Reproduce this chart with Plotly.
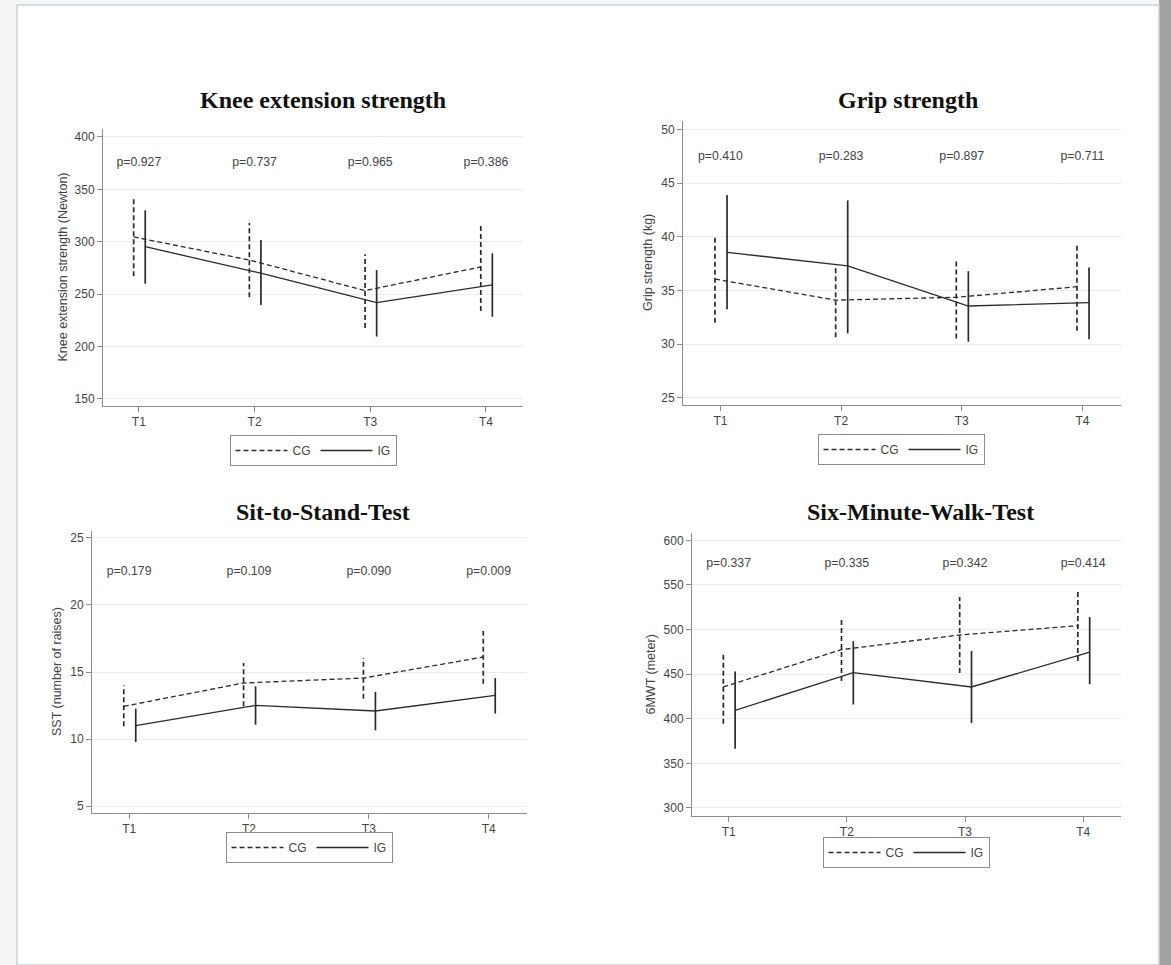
import plotly.graph_objects as go

# ---------------- data ----------------
timepoints = ["T1", "T2", "T3", "T4"]
groups = ["CG", "IG"]

knee_cg_mean = [304.6, 282.6, 253.4, 276.0]
knee_cg_lo = [267.0, 247.0, 217.7, 234.0]
knee_cg_hi = [341.0, 318.0, 288.0, 315.0]
knee_ig_mean = [295.3, 270.0, 242.0, 258.8]
knee_ig_lo = [260.0, 239.7, 209.6, 228.5]
knee_ig_hi = [330.0, 301.7, 273.0, 289.0]
knee_p = ["0.927", "0.737", "0.965", "0.386"]

grip_cg_mean = [36.06, 34.10, 34.36, 35.35]
grip_cg_lo = [32.00, 30.63, 30.53, 31.25]
grip_cg_hi = [40.16, 37.36, 37.95, 39.30]
grip_ig_mean = [38.55, 37.30, 33.55, 33.86]
grip_ig_lo = [33.24, 31.00, 30.22, 30.45]
grip_ig_hi = [43.90, 43.40, 36.80, 37.15]
grip_p = ["0.410", "0.283", "0.897", "0.711"]

sst_cg_mean = [12.44, 14.18, 14.55, 16.12]
sst_cg_lo = [10.95, 12.44, 13.01, 14.13]
sst_cg_hi = [14.00, 15.67, 16.04, 18.06]
sst_ig_mean = [11.00, 12.51, 12.09, 13.26]
sst_ig_lo = [9.78, 11.07, 10.65, 11.90]
sst_ig_hi = [12.27, 13.93, 13.51, 14.55]
sst_p = ["0.179", "0.109", "0.090", "0.009"]

smwt_cg_mean = [435.6, 477.5, 493.9, 504.3]
smwt_cg_lo = [394.5, 442.3, 451.2, 464.7]
smwt_cg_hi = [474.8, 512.2, 536.4, 544.7]
smwt_ig_mean = [409.4, 451.7, 435.6, 474.8]
smwt_ig_lo = [366.5, 416.0, 395.2, 438.6]
smwt_ig_hi = [453.0, 487.0, 475.9, 514.0]
smwt_p = ["0.337", "0.335", "0.342", "0.414"]

# ---------------- layout settings ----------------
W, H = 1171, 965
SANS = "Liberation Sans, Arial, sans-serif"
SERIF = "Liberation Serif, Times New Roman, serif"
INK = "#2b2b2b"
TXT = "#444444"
AXIS = "#8c8c8c"
GRID = "#ececec"
DODGE = {"CG": -0.045, "IG": 0.055}
DASH = {"CG": "5px,3px", "IG": "solid"}


def px_x(v):
    return v / W


def px_y(v):
    return 1 - v / H


panels = [
    dict(title="Knee extension strength", ytitle="Knee extension strength (Newton)",
         data={"CG": (knee_cg_mean, knee_cg_lo, knee_cg_hi), "IG": (knee_ig_mean, knee_ig_lo, knee_ig_hi)},
         p=knee_p, p_y=375, box=(103, 129, 523, 406), yrange=[143.3, 407.6], ticks=[150, 200, 250, 300, 350, 400],
         title_pos=(323, 100), ytitle_x=62, legend_pos=(313, 435)),
    dict(title="Grip strength", ytitle="Grip strength (kg)",
         data={"CG": (grip_cg_mean, grip_cg_lo, grip_cg_hi), "IG": (grip_ig_mean, grip_ig_lo, grip_ig_hi)},
         p=grip_p, p_y=47.45, box=(683, 121, 1121, 405), yrange=[24.32, 50.8], ticks=[25, 30, 35, 40, 45, 50],
         title_pos=(908, 100), ytitle_x=648, legend_pos=(901, 434)),
    dict(title="Sit-to-Stand-Test", ytitle="SST (number of raises)",
         data={"CG": (sst_cg_mean, sst_cg_lo, sst_cg_hi), "IG": (sst_ig_mean, sst_ig_lo, sst_ig_hi)},
         p=sst_p, p_y=22.46, box=(92, 531, 527, 813), yrange=[4.48, 25.52], ticks=[5, 10, 15, 20, 25],
         title_pos=(323, 512), ytitle_x=57, legend_pos=(309, 832)),
    dict(title="Six-Minute-Walk-Test", ytitle="6MWT (meter)",
         data={"CG": (smwt_cg_mean, smwt_cg_lo, smwt_cg_hi), "IG": (smwt_ig_mean, smwt_ig_lo, smwt_ig_hi)},
         p=smwt_p, p_y=573.8, box=(692, 533, 1121, 816), yrange=[291.0, 608.2], ticks=[300, 350, 400, 450, 500, 550, 600],
         title_pos=(920, 512), ytitle_x=650, legend_pos=(906, 837)),
]

fig = go.Figure()
layout = dict(
    width=W, height=H, autosize=False,
    margin=dict(l=0, r=0, t=0, b=0),
    paper_bgcolor="#a2a2a2",
    plot_bgcolor="rgba(0,0,0,0)",
    font=dict(family=SANS, size=12, color=TXT),
    showlegend=True,
    annotations=[],
    shapes=[],
)

# light surroundings above and left of the page (right edge stays grey)
layout["shapes"].append(dict(type="rect", xref="paper", yref="paper", layer="below",
                             x0=0, x1=px_x(1159), y0=0, y1=1,
                             fillcolor="#f4f5f6", line=dict(width=0)))
# page frame
layout["shapes"].append(dict(type="rect", xref="paper", yref="paper", layer="below",
                             x0=px_x(17), x1=px_x(1159), y0=0, y1=px_y(5),
                             fillcolor="white", line=dict(color="#c8d1de", width=1.5)))

for k, pnl in enumerate(panels, start=1):
    sfx = "" if k == 1 else str(k)
    xa, ya = "x" + sfx, "y" + sfx
    leg = "legend" + sfx
    x0, y0, x1, y1 = pnl["box"]
    pos = [i + 1 for i in range(len(timepoints))]

    for g in groups:
        mean, lo, hi = pnl["data"][g]
        gx = [p + DODGE[g] for p in pos]
        # confidence interval spikes
        cx, cy = [], []
        for xv, l, h in zip(gx, lo, hi):
            cx += [xv, xv, None]
            cy += [l, h, None]
        fig.add_trace(go.Scatter(x=cx, y=cy, mode="lines", xaxis=xa, yaxis=ya,
                                 line=dict(color=INK, width=1.7, dash=DASH[g]),
                                 showlegend=False, hoverinfo="skip"))
        # mean profile
        fig.add_trace(go.Scatter(x=gx, y=mean, mode="lines", name=g, xaxis=xa, yaxis=ya,
                                 line=dict(color=INK, width=1.3, dash=DASH[g]),
                                 legend=leg, showlegend=True))

    # p-values above each time point
    fig.add_trace(go.Scatter(x=pos, y=[pnl["p_y"]] * len(pos), mode="text",
                             text=["p=" + v for v in pnl["p"]], xaxis=xa, yaxis=ya,
                             textfont=dict(family=SANS, size=12.3, color=TXT),
                             showlegend=False, hoverinfo="skip"))

    layout["xaxis" + sfx] = dict(
        domain=[px_x(x0), px_x(x1)], anchor=ya, range=[0.69, 4.32],
        tickvals=pos, ticktext=timepoints, showgrid=False, zeroline=False,
        showline=True, linecolor=AXIS, linewidth=1,
        ticks="outside", ticklen=5, tickcolor=AXIS, tickwidth=1,
        tickfont=dict(family=SANS, size=12, color=TXT), fixedrange=True,
    )
    layout["yaxis" + sfx] = dict(
        domain=[px_y(y1), px_y(y0)], anchor=xa, range=pnl["yrange"],
        tickvals=pnl["ticks"], showgrid=True, gridcolor=GRID, gridwidth=1, zeroline=False,
        showline=True, linecolor=AXIS, linewidth=1,
        ticks="outside", ticklen=5, tickcolor=AXIS, tickwidth=1,
        tickfont=dict(family=SANS, size=12, color=TXT), fixedrange=True,
    )
    layout[leg] = dict(
        orientation="h", xref="paper", yref="paper",
        x=px_x(pnl["legend_pos"][0]), y=px_y(pnl["legend_pos"][1]),
        xanchor="center", yanchor="top",
        bgcolor="white", bordercolor=AXIS, borderwidth=1,
        font=dict(family=SANS, size=12, color=TXT), itemwidth=52,
        itemclick=False, itemdoubleclick=False,
    )
    tx, ty = pnl["title_pos"]
    layout["annotations"].append(dict(
        text="<b>" + pnl["title"] + "</b>", xref="paper", yref="paper",
        x=px_x(tx), y=px_y(ty), xanchor="center", yanchor="middle", showarrow=False,
        font=dict(family=SERIF, size=24, color="#111111"),
    ))
    layout["annotations"].append(dict(
        text=pnl["ytitle"], xref="paper", yref="paper", textangle=-90,
        x=px_x(pnl["ytitle_x"]), y=px_y((y0 + y1) / 2), xanchor="center", yanchor="middle",
        showarrow=False, font=dict(family=SANS, size=12.5, color=TXT),
    ))

fig.update_layout(**layout)
fig.write_html("out.html")
